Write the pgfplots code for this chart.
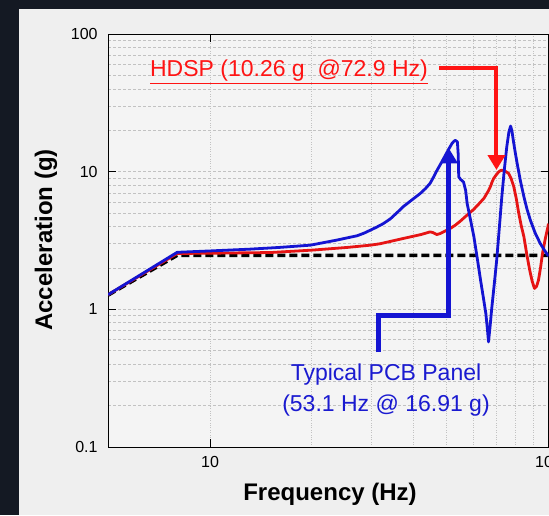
\documentclass[border=0pt]{standalone}
\usepackage{fontspec}
\setmainfont{Liberation Sans}
\usepackage{pgfplots}
\usepackage{pgfplotstable}
\pgfplotsset{compat=1.18}
\usetikzlibrary{arrows.meta}

\definecolor{frame}{HTML}{141923}
\definecolor{panel}{HTML}{EFEFEF}
\definecolor{plotbg}{HTML}{F4F4F4}
\definecolor{gridc}{HTML}{C2C2C2}
\definecolor{cblue}{HTML}{1414D2}
\definecolor{cred}{HTML}{E61414}
\definecolor{tblue}{HTML}{1A1AD0}
\definecolor{tred}{HTML}{FF1414}

% typical PCB panel response
\pgfplotstableread{
f a
5 1.28
8 2.60
10 2.66
13.1 2.74
16 2.82
19.8 2.93
23.7 3.19
27.2 3.43
28.5 3.58
29.8 3.77
31.0 3.95
32.5 4.20
34.1 4.55
35.7 5.05
37.3 5.60
39.5 6.25
41.8 6.96
43.3 7.55
44.7 8.25
45.8 9.2
46.8 10.2
48.2 11.6
49.6 13.2
50.8 14.7
51.9 16.1
52.6 16.7
53.1 16.91
53.8 16.5
54.1 13.5
54.3 9.2
55.0 8.8
56.1 8.43
56.9 7.35
57.5 5.89
58.8 4.50
60.2 3.37
61.6 2.35
63.0 1.63
64.2 1.22
65.3 0.935
66.0 0.72
66.5 0.58
67.2 0.75
67.9 0.99
69.1 1.50
70.3 2.28
71.5 3.80
72.8 6.58
74.0 10.2
75.3 15.2
76.4 19.5
77.3 21.5
78.0 19.8
78.7 17.0
79.7 14.0
80.8 11.5
82.6 8.6
84.6 6.58
86.5 5.30
88.4 4.45
91.3 3.60
94.5 3.02
97.2 2.70
100 2.44
}\bluedata

% HDSP response
\pgfplotstableread{
f a
5 1.28
8 2.55
10 2.56
15.1 2.59
20.2 2.70
25.4 2.82
29.8 2.93
31.8 3.00
37.3 3.28
42 3.50
44.7 3.66
45.5 3.62
46.8 3.50
47.9 3.56
49.6 3.72
51.3 3.88
53.1 4.10
55 4.40
57.5 4.85
60.2 5.35
62.3 5.85
64.5 6.43
66.5 7.30
67.5 7.90
68.2 8.50
68.9 8.96
70.3 9.60
71.3 10.0
72.1 10.2
72.9 10.26
73.7 10.22
74.5 10.1
76.2 9.74
77.6 8.9
79 7.78
80.3 6.4
81.7 4.98
83.1 4.05
84.6 3.37
86.3 2.50
88 1.93
89.5 1.60
90.9 1.42
92.2 1.47
93.4 1.63
94.7 2.00
96 2.55
97.8 3.25
99.6 3.98
100 4.20
}\reddata

% input profile
\pgfplotstableread{
f a
5 1.27
8 2.47
100 2.47
}\inputdata

\begin{document}
\begin{tikzpicture}
\path[use as bounding box] (0pt,0pt) rectangle (549pt,515pt);
\fill[frame] (0pt,0pt) rectangle (549pt,515pt);
\fill[panel] (19pt,0pt) rectangle (549pt,506pt);

\begin{axis}[
    name=ax,
    at={(108.1pt,68pt)}, anchor=south west,
    scale only axis,
    width=440.4pt, height=412.8pt,
    xmode=log, ymode=log,
    xmin=5, xmax=100, ymin=0.1, ymax=100,
    axis background/.style={fill=plotbg},
    axis line style={black, line width=1pt},
    xtick={10,100}, xticklabels={10,100},
    ytick={0.1,1,10,100}, yticklabels={0.1,1,10,100},
    tick align=inside,
    major tick length=8pt, minor tick length=0pt,
    every tick/.style={black, line width=1pt},
    ticklabel style={font=\fontsize{16}{18}\selectfont},
    xticklabel style={yshift=-6pt},
    yticklabel style={xshift=-7pt},
    grid=both,
    major x grid style={gridc, dotted, line width=0.9pt},
    minor x grid style={gridc, dotted, line width=0.9pt},
    major y grid style={gridc, dash pattern=on 3pt off 2pt, line width=0.9pt},
    minor y grid style={gridc, dash pattern=on 3pt off 2pt, line width=0.9pt},
]
\addplot[black, line width=3.5pt, dash pattern=on 8pt off 4pt] table[x=f,y=a] {\inputdata};
\addplot[cred, line width=2.8pt, line join=round] table[x=f,y=a] {\reddata};
\addplot[cblue, line width=2.8pt, line join=round] table[x=f,y=a] {\bluedata};

% callout arrows
\draw[tred, line width=4pt, -{Triangle[length=15pt,width=17pt]}]
    (axis cs:47.6,57.1) -| (axis cs:70.2,10.3);
\draw[cblue, line width=5pt, -{Triangle[length=15pt,width=17pt]}]
    (axis cs:31.4,0.49) |- (axis cs:50.8,0.909) -- (axis cs:50.8,14.8);
\end{axis}

\node[tred, anchor=base, font=\fontsize{23}{26}\selectfont] at (289pt,438pt)
    {\underline{HDSP (10.26 g\ \ @72.9 Hz)}};
\node[tblue, anchor=base, font=\fontsize{23}{26}\selectfont] at (386pt,135pt)
    {Typical PCB Panel};
\node[tblue, anchor=base, font=\fontsize{23}{26}\selectfont] at (386pt,104pt)
    {(53.1 Hz @ 16.91 g)};

\node[anchor=base, font=\fontsize{24}{28}\selectfont\bfseries] at (330pt,15pt)
    {Frequency (Hz)};
\node[anchor=base, rotate=90, font=\fontsize{24}{28}\selectfont\bfseries] at (52pt,275pt)
    {Acceleration (g)};
\end{tikzpicture}
\end{document}
